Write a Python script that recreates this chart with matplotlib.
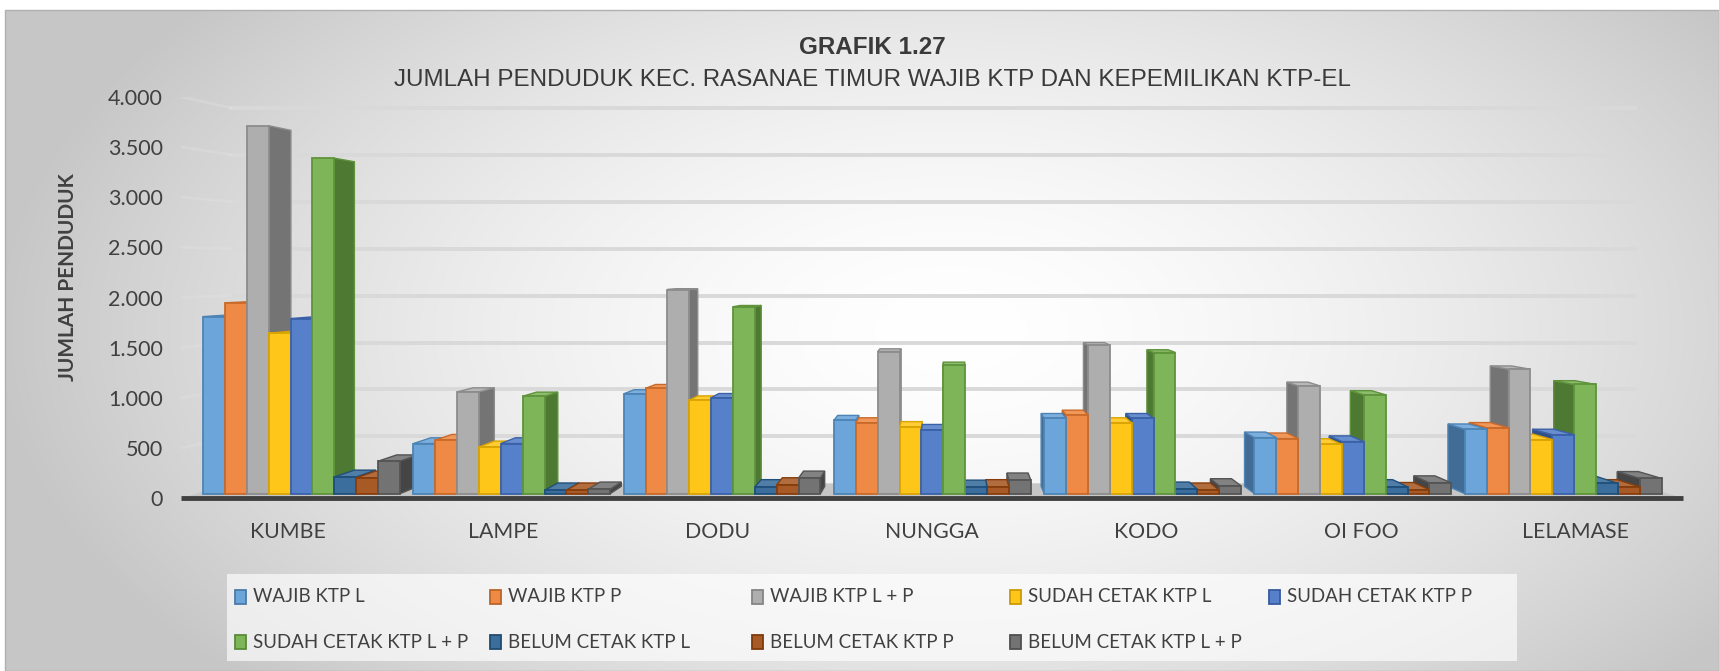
import matplotlib
matplotlib.use('Agg')
import matplotlib.pyplot as plt
import numpy as np
from matplotlib import font_manager
from matplotlib.patches import Polygon, Rectangle
from matplotlib.colors import to_rgb

# data (jumlah penduduk per desa)
categories = ['KUMBE', 'LAMPE', 'DODU', 'NUNGGA', 'KODO', 'OI FOO', 'LELAMASE']
series_names = ['WAJIB KTP L', 'WAJIB KTP P', 'WAJIB KTP L + P',
                'SUDAH CETAK KTP L', 'SUDAH CETAK KTP P', 'SUDAH CETAK KTP L + P',
                'BELUM CETAK KTP L', 'BELUM CETAK KTP P', 'BELUM CETAK KTP L + P']
wajib_l = [1800, 510, 1015, 745, 765, 570, 655]
wajib_p = [1940, 545, 1070, 720, 800, 560, 670]
wajib_lp = [3740, 1035, 2075, 1445, 1510, 1095, 1265]
sudah_l = [1630, 475, 950, 680, 720, 500, 550]
sudah_p = [1780, 510, 975, 650, 765, 530, 600]
sudah_lp = [3410, 990, 1900, 1305, 1435, 1005, 1110]
belum_l = [170, 35, 70, 65, 45, 70, 105]
belum_p = [160, 35, 90, 70, 35, 40, 70]
belum_lp = [330, 45, 160, 140, 80, 110, 155]
y_ticks = [0, 500, 1000, 1500, 2000, 2500, 3000, 3500, 4000]

values = [wajib_l, wajib_p, wajib_lp, sudah_l, sudah_p, sudah_lp,
          belum_l, belum_p, belum_lp]
base_colors = ['#5B9BD5', '#ED7D31', '#A5A5A5', '#FFC000', '#4472C4',
               '#70AD47', '#255E91', '#9E480E', '#636363']

W, H = 1719, 671
TXT = '#404040'

names = {f.name for f in font_manager.fontManager.ttflist}
if 'Liberation Sans Narrow' in names:
    title_font, t1, t2 = 'Liberation Sans Narrow', 21.5, 20
else:
    title_font, t1, t2 = 'Liberation Sans', 17.5, 17.4
plt.rcParams['font.family'] = ['Lato', 'DejaVu Sans']


def mix(c, other, f):
    c = np.array(to_rgb(c))
    return tuple(c + (np.array(other) - c) * f)


# perspective of the excel 3d chart, done in data space
XV, YV = 3.08, 2294.0
Z0, Z1, ZB = 0.02, 0.052, 0.065


def proj(x, y, z):
    return x + (XV - x) * z, y + (YV - y) * z


fig = plt.figure(figsize=(W / 100, H / 100), dpi=100)

# background: radial grey gradient inside the chart frame
bg = fig.add_axes([0, 0, 1, 1], zorder=-10)
yy, xx = np.mgrid[0:H, 0:W]
d = np.sqrt(((xx - 950) / 950.0) ** 2 + ((yy - 330) / 520.0) ** 2)
shade = 1 - 0.22 * np.clip(d, 0, 1) ** 1.6
shade[:10, :] = 1
shade[:, :5] = 1
bg.imshow(np.dstack([shade] * 3), extent=[0, W, H, 0], aspect='auto')
bg.add_patch(Rectangle((5, 10), W - 5, H - 10, fill=False, ec='#b0b0b0', lw=1))
bg.set_xlim(0, W)
bg.set_ylim(H, 0)
bg.axis('off')

ax = fig.add_axes([181 / W, 1 - 498.3 / H, 1502 / W, 401.6 / H])
ax.patch.set_alpha(0)
ax.set_xlim(-0.5, len(categories) - 0.5)
ax.set_ylim(0, 4000)
for sp in ax.spines.values():
    sp.set_visible(False)

# back wall gridlines + faint left wall lines
x0, x1 = -0.5, len(categories) - 0.5
for yt in y_ticks[1:]:
    a, b = proj(x0, yt, ZB), proj(x1, yt, ZB)
    ax.plot([a[0], b[0]], [a[1], b[1]], color='#d9d9d9', lw=2.8, zorder=1)
    c0 = proj(x0, yt, 0)
    ax.plot([c0[0], a[0]], [c0[1], a[1]], color='#e2e2e2', lw=2, alpha=0.35, zorder=1)

# floor
floor = [proj(x0, 0, 0), proj(x1, 0, 0), proj(x1, 0, ZB), proj(x0, 0, ZB)]
ax.add_patch(Polygon(floor, closed=True, fc='#c6c6c6', ec='none', zorder=2))
ax.plot([x0, x1], [0, 0], color='#404040', lw=3.5, zorder=2.5,
        clip_on=False, solid_capstyle='butt')

# bars, painted from far (away from vanishing point) to near
nser = len(series_names)
bw = 0.104
order = []
for c in range(len(categories)):
    for s in range(nser):
        xl = c - bw * nser / 2 + s * bw
        order.append((abs(xl + bw / 2 - XV), c, s, xl))
order.sort(reverse=True)

for rank, (_, c, s, xl) in enumerate(order):
    v = values[s][c]
    xr = xl + bw
    col = base_colors[s]
    front = mix(col, (1, 1, 1), 0.1)
    side = mix(col, (0, 0, 0), 0.3)
    top = mix(col, (1, 1, 1), 0.2)
    edge = mix(col, (0, 0, 0), 0.15)
    zo = 3 + rank * 0.01
    xs = xr if xl + bw / 2 < XV else xl
    side_pts = [proj(xs, 0, Z0), proj(xs, v, Z0), proj(xs, v, Z1), proj(xs, 0, Z1)]
    ax.add_patch(Polygon(side_pts, closed=True, fc=side, ec=edge, lw=1, zorder=zo))
    if v < YV:
        top_pts = [proj(xl, v, Z0), proj(xr, v, Z0), proj(xr, v, Z1), proj(xl, v, Z1)]
        ax.add_patch(Polygon(top_pts, closed=True, fc=top, ec=edge, lw=1, zorder=zo))
    bl = proj(xl, 0, Z0)
    tr = proj(xr, v, Z0)
    ax.bar(bl[0], tr[1] - bl[1], width=tr[0] - bl[0], bottom=bl[1], align='edge',
           color=front, edgecolor=edge, lw=1.3, zorder=zo + 0.005)

ax.set_yticks(y_ticks)
ax.set_yticklabels([f'{t:,}'.replace(',', '.') for t in y_ticks])
ax.set_xticks(range(len(categories)))
ax.set_xticklabels(categories)
ax.tick_params(axis='y', length=0, pad=13, labelsize=15.5, labelcolor=TXT)
ax.tick_params(axis='x', length=0, pad=17, labelsize=15.3, labelcolor=TXT)

fig.text(68 / W, 1 - 277 / H, 'JUMLAH PENDUDUK', rotation=90, ha='center',
         va='center', fontsize=15, fontweight='bold', color=TXT)

fig.text(872 / W, 1 - 47 / H, 'GRAFIK 1.27', ha='center', va='center',
         fontsize=t1, fontweight='bold', color='#3a3a3a', family=title_font)
fig.text(872 / W, 1 - 80 / H, 'JUMLAH PENDUDUK KEC. RASANAE TIMUR WAJIB KTP DAN KEPEMILIKAN KTP-EL',
         ha='center', va='center', fontsize=t2, color='#3a3a3a', family=title_font)

# legend drawn by hand to keep excel's column grid
bg.add_patch(Rectangle((227, 574), 1290, 87, fc='white', ec='none', alpha=0.65, zorder=1))
col_x = [235, 490, 752, 1010, 1269]
row_y = [597, 642]
for i, name in enumerate(series_names):
    cx = col_x[i % 5]
    cy = row_y[i // 5]
    col = base_colors[i]
    bg.add_patch(Rectangle((cx, cy - 7), 11, 14, fc=mix(col, (1, 1, 1), 0.1),
                           ec=mix(col, (0, 0, 0), 0.2), lw=1.3, zorder=2))
    bg.text(cx + 18, cy, name, ha='left', va='center', fontsize=13.5,
            color=TXT, zorder=3)

fig.savefig('out.png', dpi=100)
